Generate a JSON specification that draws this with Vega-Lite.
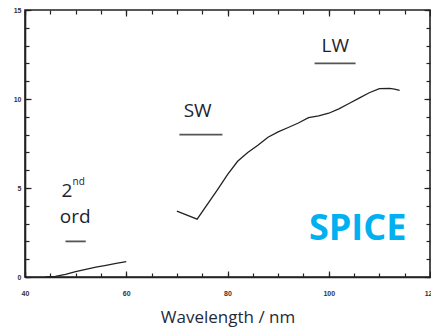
{
  "$schema": "https://vega.github.io/schema/vega-lite/v6.json",
  "autosize": "none",
  "width": 405,
  "height": 267,
  "padding": {"left": 25, "top": 10, "right": 1, "bottom": 53},
  "background": "white",
  "config": {
    "view": {"stroke": "#222", "strokeWidth": 1.6},
    "axis": {
      "domainColor": "#222",
      "domainWidth": 1.6,
      "tickColor": "#222",
      "tickWidth": 1.2,
      "grid": false,
      "labelFont": "Liberation Sans",
      "labelFontSize": 7,
      "labelFontWeight": "bold",
      "labelColor": "#333",
      "titleFont": "Open Sans",
      "titleFontWeight": "normal"
    }
  },
  "datasets": {
    "curve": [
      {"wl": 44, "v": 0, "seg": "a"}, {"wl": 46, "v": 0.03, "seg": "a"}, {"wl": 48, "v": 0.15, "seg": "a"},
      {"wl": 50, "v": 0.3, "seg": "a"}, {"wl": 52, "v": 0.43, "seg": "a"}, {"wl": 54, "v": 0.55, "seg": "a"},
      {"wl": 56, "v": 0.65, "seg": "a"}, {"wl": 58, "v": 0.76, "seg": "a"}, {"wl": 60, "v": 0.86, "seg": "a"},
      {"wl": 70, "v": 3.7, "seg": "b"}, {"wl": 74, "v": 3.25, "seg": "b"}, {"wl": 78, "v": 4.9, "seg": "b"},
      {"wl": 80, "v": 5.75, "seg": "b"}, {"wl": 82, "v": 6.5, "seg": "b"}, {"wl": 84, "v": 7.0, "seg": "b"},
      {"wl": 86, "v": 7.4, "seg": "b"}, {"wl": 88, "v": 7.85, "seg": "b"}, {"wl": 90, "v": 8.15, "seg": "b"},
      {"wl": 92, "v": 8.4, "seg": "b"}, {"wl": 94, "v": 8.65, "seg": "b"}, {"wl": 96, "v": 8.95, "seg": "b"},
      {"wl": 98, "v": 9.05, "seg": "b"}, {"wl": 100, "v": 9.2, "seg": "b"}, {"wl": 102, "v": 9.45, "seg": "b"},
      {"wl": 104, "v": 9.75, "seg": "b"}, {"wl": 106, "v": 10.05, "seg": "b"}, {"wl": 108, "v": 10.35, "seg": "b"},
      {"wl": 110, "v": 10.58, "seg": "b"}, {"wl": 112, "v": 10.6, "seg": "b"}, {"wl": 113, "v": 10.55, "seg": "b"},
      {"wl": 114, "v": 10.48, "seg": "b"}
    ],
    "bands": [
      {"name": "2nd ord", "x1": 48, "x2": 52, "y": 2},
      {"name": "SW", "x1": 70.5, "x2": 79, "y": 8},
      {"name": "LW", "x1": 97.2, "x2": 105.3, "y": 12}
    ],
    "labels": [
      {"label": "SW", "x": 74.1, "y": 9.0},
      {"label": "LW", "x": 101.3, "y": 12.65},
      {"label": "ord", "x": 49.9, "y": 3.05}
    ]
  },
  "layer": [
    {
      "data": {"name": "curve"},
      "mark": {"type": "line", "color": "#222", "strokeWidth": 1.3},
      "encoding": {
        "x": {
          "field": "wl", "type": "quantitative",
          "scale": {"domain": [40, 120], "nice": false, "zero": false},
          "axis": {
            "orient": "bottom",
            "title": "Wavelength / nm",
            "titleFontSize": 17,
            "titleColor": "#1f2a3a",
            "titlePadding": 13,
            "values": [40, 60, 80, 100, 120],
            "ticks": false,
            "labelPadding": 12,
            "labelFlush": false
          }
        },
        "y": {
          "field": "v", "type": "quantitative",
          "scale": {"domain": [0, 15], "nice": false},
          "axis": {
            "orient": "left",
            "title": null,
            "values": [0, 5, 10, 15],
            "ticks": false,
            "labelPadding": 4,
            "labelFlush": false
          }
        },
        "detail": {"field": "seg"}
      }
    },
    {
      "data": {"name": "bands"},
      "mark": {"type": "rule", "color": "#555", "strokeWidth": 1.8},
      "encoding": {
        "x": {
          "field": "x1", "type": "quantitative",
          "axis": {
            "orient": "top", "title": null, "labels": false, "domain": false,
            "values": [40, 45, 50, 55, 60, 65, 70, 75, 80, 85, 90, 95, 100, 105, 110, 115, 120],
            "tickSize": 4, "offset": -4
          }
        },
        "x2": {"field": "x2"},
        "y": {
          "field": "y", "type": "quantitative",
          "axis": {
            "orient": "right", "title": null, "labels": false, "domain": false,
            "values": [0, 1, 2, 3, 4, 5, 6, 7, 8, 9, 10, 11, 12, 13, 14, 15],
            "tickSize": 4, "offset": -4
          }
        }
      }
    },
    {
      "data": {"name": "labels"},
      "mark": {"type": "text", "font": "Open Sans", "fontSize": 19, "color": "#1c2330", "align": "center", "baseline": "alphabetic"},
      "encoding": {
        "x": {
          "field": "x", "type": "quantitative",
          "axis": {
            "orient": "bottom", "title": null, "labels": false, "domain": false,
            "values": [40, 45, 50, 55, 60, 65, 70, 75, 80, 85, 90, 95, 100, 105, 110, 115, 120],
            "tickSize": 4, "offset": -4
          }
        },
        "y": {
          "field": "y", "type": "quantitative",
          "axis": {
            "orient": "left", "title": null, "labels": false, "domain": false,
            "values": [0, 1, 2, 3, 4, 5, 6, 7, 8, 9, 10, 11, 12, 13, 14, 15],
            "tickSize": 4, "offset": -4
          }
        },
        "text": {"field": "label"}
      }
    },
    {
      "data": {"values": [{"label": "2", "x": 47.2, "y": 4.5}]},
      "mark": {"type": "text", "font": "Open Sans", "fontSize": 19, "color": "#1c2330", "align": "left", "baseline": "alphabetic"},
      "encoding": {
        "x": {
          "field": "x", "type": "quantitative",
          "axis": {
            "orient": "bottom", "title": null, "labels": false, "domain": false,
            "values": [40, 60, 80, 100, 120],
            "tickSize": 6, "offset": -6
          }
        },
        "y": {
          "field": "y", "type": "quantitative",
          "axis": {
            "orient": "left", "title": null, "labels": false, "domain": false,
            "values": [0, 5, 10, 15],
            "tickSize": 6, "offset": -6
          }
        },
        "text": {"field": "label"}
      }
    },
    {
      "data": {"values": [{"label": "nd", "x": 49.4, "y": 5.15}]},
      "mark": {"type": "text", "font": "Open Sans", "fontSize": 10, "color": "#1c2330", "align": "left", "baseline": "alphabetic"},
      "encoding": {
        "x": {
          "field": "x", "type": "quantitative",
          "axis": {
            "orient": "top", "title": null, "labels": false, "domain": false,
            "values": [40, 60, 80, 100, 120],
            "tickSize": 6, "offset": -6
          }
        },
        "y": {
          "field": "y", "type": "quantitative",
          "axis": {
            "orient": "right", "title": null, "labels": false, "domain": false,
            "values": [0, 5, 10, 15],
            "tickSize": 6, "offset": -6
          }
        },
        "text": {"field": "label"}
      }
    },
    {
      "data": {"values": [{"label": "SPICE", "x": 105.7, "y": 2.08}]},
      "mark": {"type": "text", "font": "Open Sans", "fontSize": 36, "fontWeight": "bold", "color": "#00B0F0", "align": "center", "baseline": "alphabetic"},
      "encoding": {
        "x": {"field": "x", "type": "quantitative", "axis": null},
        "y": {"field": "y", "type": "quantitative", "axis": null},
        "text": {"field": "label"}
      }
    }
  ],
  "resolve": {"axis": {"x": "independent", "y": "independent"}}
}
